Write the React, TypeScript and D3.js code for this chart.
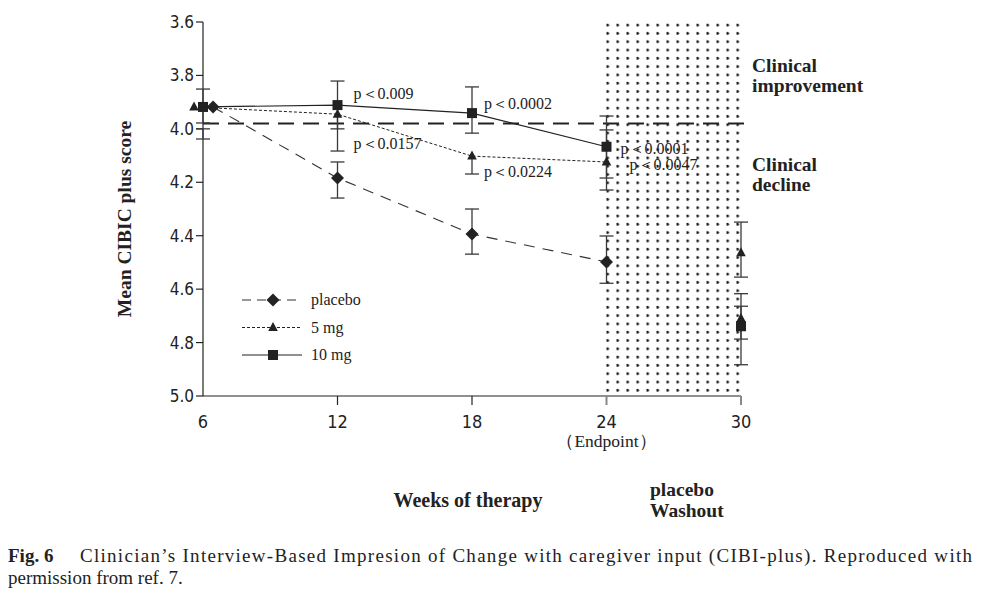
import * as d3 from "d3";

// CIBIC-plus means by treatment arm (lower = better)
const weekTicks = [6, 12, 18, 24, 30];
const scoreTicks = [3.6, 3.8, 4.0, 4.2, 4.4, 4.6, 4.8, 5.0];
const barWeeks = [6, 12, 18, 24];

// week-6 markers are nudged apart so they don't sit on top of each other
const placeboWeeks = [6.45, 12, 18, 24];
const placeboMean = [3.918, 4.184, 4.394, 4.498];
const placeboUpper = [null, 4.124, 4.3, 4.401];
const placeboLower = [null, 4.259, 4.469, 4.578];

const mg5Weeks = [5.6, 12, 18, 24];
const mg5Mean = [3.918, 3.945, 4.102, 4.124];
const mg5Upper = [4.0, null, null, 4.004];
const mg5Lower = [4.038, 4.083, 4.169, 4.229];

const mg10Weeks = [6, 12, 18, 24];
const mg10Mean = [3.918, 3.911, 3.941, 4.067];
const mg10Upper = [3.851, 3.821, 3.843, 3.952];
const mg10Lower = [3.978, 4.0, 4.016, 4.184];

// week 30, after the placebo washout
const washoutSymbol = ["triangle", "triangle", "square"];
const washoutMean = [4.464, 4.71, 4.739];
const washoutUpper = [4.349, 4.664, 4.617];
const washoutLower = [4.555, 4.787, 4.883];

const baseline = 3.98;

const pLabels = [
  { text: "p＜0.009", week: 12, score: 3.866, dx: 16 },
  { text: "p＜0.0157", week: 12, score: 4.053, dx: 16 },
  { text: "p＜0.0002", week: 18, score: 3.903, dx: 12 },
  { text: "p＜0.0224", week: 18, score: 4.158, dx: 12 },
  { text: "p＜0.0001", week: 24, score: 4.072, dx: 14 },
  { text: "p＜0.0047", week: 24, score: 4.132, dx: 23 },
];

const W = 991;
const H = 591;
const left = 203;
const right = 741;
const top = 22;
const bottom = 396;

const serif = "'Liberation Serif', 'Times New Roman', serif";
const narrow = "'Liberation Sans Narrow', 'DejaVu Sans Condensed', 'Liberation Sans', sans-serif";

type Sym = "diamond" | "triangle" | "square";

function Marker({ kind, cx, cy }: { kind: Sym; cx: number; cy: number }) {
  if (kind === "diamond") {
    const r = 6.5;
    return (
      <path
        d={`M${cx},${cy - r}L${cx + r},${cy}L${cx},${cy + r}L${cx - r},${cy}Z`}
        fill="#222"
      />
    );
  }
  if (kind === "triangle") {
    return (
      <path
        d={`M${cx},${cy - 5.5}L${cx + 4.8},${cy + 3.5}L${cx - 4.8},${cy + 3.5}Z`}
        fill="#222"
      />
    );
  }
  return <rect x={cx - 5} y={cy - 5} width={10} height={10} fill="#222" />;
}

function ErrorBar({
  x,
  mean,
  upper,
  lower,
  y,
}: {
  x: number;
  mean: number;
  upper: number | null;
  lower: number | null;
  y: d3.ScaleLinear<number, number>;
}) {
  const y1 = y(upper ?? mean);
  const y2 = y(lower ?? mean);
  return (
    <g stroke="#3a3a3a" strokeWidth={1.3}>
      <line x1={x} x2={x} y1={y1} y2={y2} />
      {upper != null && <line x1={x - 7} x2={x + 7} y1={y1} y2={y1} />}
      {lower != null && <line x1={x - 7} x2={x + 7} y1={y2} y2={y2} />}
    </g>
  );
}

export default function App() {
  const x = d3.scaleLinear().domain([6, 30]).range([left, right]);
  const y = d3.scaleLinear().domain([3.6, 5.0]).range([top, bottom]);

  const series = [
    {
      name: "placebo",
      kind: "diamond" as Sym,
      weeks: placeboWeeks,
      mean: placeboMean,
      upper: placeboUpper,
      lower: placeboLower,
      dash: "11,8",
      width: 1.1,
      color: "#333",
    },
    {
      name: "5 mg",
      kind: "triangle" as Sym,
      weeks: mg5Weeks,
      mean: mg5Mean,
      upper: mg5Upper,
      lower: mg5Lower,
      dash: "3,2",
      width: 1,
      color: "#222",
    },
    {
      name: "10 mg",
      kind: "square" as Sym,
      weeks: mg10Weeks,
      mean: mg10Mean,
      upper: mg10Upper,
      lower: mg10Lower,
      dash: undefined,
      width: 1.2,
      color: "#222",
    },
  ];

  const line = d3
    .line<[number, number]>()
    .x((d) => x(d[0]))
    .y((d) => y(d[1]));

  const legendDash = ["9,6", "3,2", undefined];

  return (
    <svg
      width={W}
      height={H}
      style={{ position: "absolute", left: 0, top: 0, background: "#fff" }}
    >
      <defs>
        <pattern
          id="washout-dots"
          patternUnits="userSpaceOnUse"
          x={x(24)}
          y={top}
          width={10}
          height={8.3}
        >
          <circle cx={1} cy={3} r={1.5} fill="#1a1a1a" />
        </pattern>
      </defs>

      {/* washout period */}
      <rect
        x={x(24) - 1}
        y={top}
        width={x(30) - x(24) + 1}
        height={bottom - top - 2}
        fill="url(#washout-dots)"
      />

      {/* baseline score */}
      <line
        x1={left}
        x2={753}
        y1={y(baseline)}
        y2={y(baseline)}
        stroke="#222"
        strokeWidth={2}
        strokeDasharray="16,9"
      />

      {/* axes */}
      <g stroke="#222" strokeWidth={1.2}>
        <line x1={left} x2={left} y1={top} y2={bottom} />
        <line x1={left} x2={right} y1={bottom} y2={bottom} />
        {scoreTicks.map((t) => (
          <line key={t} x1={left - 7} x2={left} y1={y(t)} y2={y(t)} />
        ))}
        {weekTicks.slice(1).map((t) => (
          <line
            key={t}
            x1={x(t)}
            x2={x(t)}
            y1={bottom}
            y2={bottom + 9}
            stroke={t >= 24 ? "#888" : "#222"}
            strokeWidth={t >= 24 ? 2 : 1.2}
          />
        ))}
      </g>
      <g fontFamily={narrow} fontSize={17} fill="#222">
        {scoreTicks.map((t) => (
          <text key={t} x={left - 9} y={y(t) + 6} textAnchor="end">
            {t.toFixed(1)}
          </text>
        ))}
        {weekTicks.map((t) => (
          <text key={t} x={x(t)} y={428} textAnchor="middle" fontSize={18}>
            {t}
          </text>
        ))}
      </g>
      <text
        x={x(24)}
        y={447}
        textAnchor="middle"
        fontFamily={serif}
        fontSize={17.5}
        fill="#222"
      >
        （Endpoint）
      </text>

      {/* series lines */}
      {series.map((s) => (
        <path
          key={s.name}
          d={line(s.weeks.map((w, i) => [w, s.mean[i]] as [number, number])) ?? ""}
          fill="none"
          stroke={s.color}
          strokeWidth={s.width}
          strokeDasharray={s.dash}
        />
      ))}

      {/* error bars */}
      {series.map((s) =>
        barWeeks.map((w, i) => (
          <ErrorBar
            key={`${s.name}-${w}`}
            x={x(w)}
            mean={s.mean[i]}
            upper={s.upper[i]}
            lower={s.lower[i]}
            y={y}
          />
        )),
      )}
      {washoutMean.map((m, i) => (
        <ErrorBar
          key={`wo-${i}`}
          x={x(30)}
          mean={m}
          upper={washoutUpper[i]}
          lower={washoutLower[i]}
          y={y}
        />
      ))}

      {/* markers */}
      {series.map((s) =>
        s.weeks.map((w, i) => (
          <Marker key={`${s.name}-m-${w}`} kind={s.kind} cx={x(w)} cy={y(s.mean[i])} />
        )),
      )}
      {washoutMean.map((m, i) => (
        <Marker key={`wo-m-${i}`} kind={washoutSymbol[i] as Sym} cx={x(30)} cy={y(m)} />
      ))}

      {/* significance labels */}
      <g fontFamily={serif} fontSize={16} fill="#222">
        {pLabels.map((p) => (
          <text key={p.text} x={x(p.week) + p.dx} y={y(p.score) + 6}>
            {p.text}
          </text>
        ))}
      </g>

      {/* legend */}
      <g fontFamily={serif} fontSize={16} fill="#222">
        {series.map((s, i) => {
          const ly = 300 + i * 27.5;
          return (
            <g key={s.name}>
              <line
                x1={242}
                x2={302}
                y1={ly}
                y2={ly}
                stroke={s.color}
                strokeWidth={s.width}
                strokeDasharray={legendDash[i]}
              />
              <Marker kind={s.kind} cx={273} cy={ly} />
              <text x={311} y={ly + 5}>
                {s.name}
              </text>
            </g>
          );
        })}
      </g>

      {/* region labels */}
      <g fontFamily={serif} fontSize={19.5} fontWeight="bold" fill="#222">
        <text x={752} y={72}>Clinical</text>
        <text x={752} y={92}>improvement</text>
        <text x={752} y={171}>Clinical</text>
        <text x={752} y={191}>decline</text>
        <text x={468} y={507} textAnchor="middle" fontSize={20}>
          Weeks of therapy
        </text>
        <text x={650} y={496}>placebo</text>
        <text x={650} y={517}>Washout</text>
        <text
          transform={`translate(131,${(top + bottom) / 2 + 10}) rotate(-90)`}
          textAnchor="middle"
        >
          Mean CIBIC plus score
        </text>
      </g>

      {/* caption */}
      <g fontFamily={serif} fontSize={19} fill="#222">
        <text x={8} y={562}>
          <tspan fontWeight="bold">Fig. 6</tspan>
        </text>
        <text x={80} y={562} textLength={892} lengthAdjust="spacing">
          Clinician’s Interview-Based Impresion of Change with caregiver input (CIBI-plus). Reproduced with
        </text>
        <text x={8} y={584}>
          permission from ref. 7.
        </text>
      </g>
    </svg>
  );
}
